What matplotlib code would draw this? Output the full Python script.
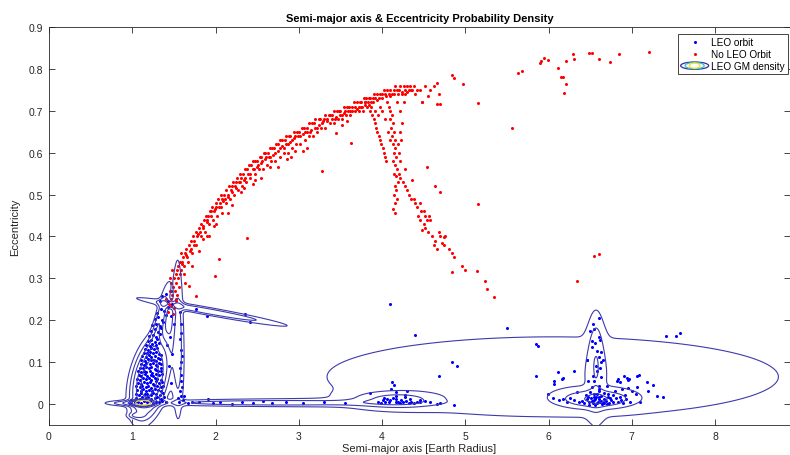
import numpy as np
import matplotlib.pyplot as plt
from matplotlib.lines import Line2D
from matplotlib.patches import Ellipse
from matplotlib.legend_handler import HandlerBase

plt.rcParams['font.family'] = ['Liberation Sans', 'DejaVu Sans']

# ---- non-LEO objects (semi-major axis [Re], eccentricity) ----
red_arc = [
    (1.44, 0.24), (1.45, 0.27), (1.46, 0.25), (1.47, 0.29), (1.48, 0.26), (1.49, 0.28), (1.50, 0.30), (1.50, 0.23),
    (1.51, 0.27), (1.52, 0.31), (1.52, 0.29), (1.53, 0.25), (1.54, 0.32), (1.55, 0.30), (1.55, 0.33), (1.56, 0.28),
    (1.57, 0.34), (1.58, 0.32), (1.58, 0.36), (1.60, 0.34), (1.61, 0.35), (1.62, 0.33), (1.63, 0.36), (1.65, 0.37),
    (1.66, 0.35), (1.68, 0.38), (1.70, 0.37), (1.71, 0.39), (1.73, 0.40), (1.74, 0.38), (1.76, 0.41), (1.78, 0.40),
    (1.80, 0.42), (1.81, 0.41), (1.83, 0.43), (1.85, 0.42), (1.86, 0.44), (1.88, 0.45), (1.90, 0.44), (1.91, 0.45),
    (1.93, 0.46), (1.95, 0.46), (1.96, 0.47), (1.98, 0.46), (2.00, 0.48), (2.01, 0.47), (2.03, 0.49), (2.05, 0.48),
    (2.06, 0.50), (2.08, 0.49), (2.10, 0.50), (2.11, 0.49), (2.13, 0.51), (2.15, 0.50), (2.16, 0.52), (2.18, 0.51),
    (2.20, 0.52), (2.21, 0.53), (2.23, 0.52), (2.25, 0.53), (2.26, 0.54), (2.28, 0.53), (2.30, 0.55), (2.31, 0.54),
    (2.33, 0.55), (2.35, 0.56), (2.36, 0.54), (2.38, 0.56), (2.40, 0.57), (2.41, 0.55), (2.43, 0.57), (2.45, 0.58),
    (2.46, 0.56), (2.48, 0.58), (2.50, 0.58), (2.51, 0.57), (2.53, 0.59), (2.55, 0.59), (2.56, 0.58), (2.58, 0.60),
    (2.60, 0.60), (2.61, 0.59), (2.63, 0.60), (2.65, 0.61), (2.66, 0.59), (2.68, 0.61), (2.70, 0.61), (2.72, 0.60),
    (2.73, 0.62), (2.75, 0.62), (2.77, 0.61), (2.78, 0.63), (2.80, 0.63), (2.82, 0.61), (2.83, 0.63), (2.85, 0.64),
    (2.87, 0.62), (2.88, 0.64), (2.90, 0.64), (2.92, 0.63), (2.94, 0.65), (2.96, 0.64), (2.98, 0.65), (3.00, 0.65),
    (3.02, 0.64), (3.04, 0.66), (3.06, 0.66), (3.08, 0.65), (3.10, 0.66), (3.12, 0.67), (3.14, 0.65), (3.16, 0.67),
    (3.18, 0.67), (3.20, 0.68), (3.22, 0.66), (3.24, 0.68), (3.26, 0.68), (3.28, 0.67), (3.30, 0.68), (3.32, 0.69),
    (3.34, 0.68), (3.36, 0.69), (3.38, 0.69), (3.40, 0.69), (3.42, 0.70), (3.44, 0.68), (3.46, 0.70), (3.48, 0.70),
    (3.50, 0.70), (3.52, 0.69), (3.54, 0.71), (3.56, 0.70), (3.58, 0.71), (3.60, 0.71), (3.62, 0.70), (3.64, 0.71),
    (3.66, 0.72), (3.68, 0.71), (3.70, 0.72), (3.72, 0.71), (3.73, 0.72), (3.75, 0.72), (3.76, 0.71), (3.78, 0.73),
    (3.79, 0.72), (3.80, 0.72), (3.81, 0.73), (3.83, 0.72), (3.84, 0.73), (3.86, 0.73), (3.87, 0.72), (3.89, 0.73),
    (3.90, 0.74), (3.92, 0.73), (3.94, 0.74), (3.96, 0.73), (3.98, 0.74), (4.00, 0.74), (4.02, 0.75), (4.04, 0.74),
    (4.06, 0.75), (4.08, 0.74), (4.10, 0.75), (4.12, 0.74), (4.14, 0.75), (4.16, 0.76), (4.18, 0.75), (4.20, 0.75),
    (4.22, 0.76), (4.24, 0.74), (4.26, 0.76), (4.28, 0.75), (4.30, 0.76), (4.32, 0.75), (4.34, 0.76), (4.36, 0.75),
    (4.38, 0.76), (4.40, 0.74), (4.42, 0.75), (4.45, 0.75), (4.48, 0.72),
    (1.62, 0.31), (1.67, 0.34), (1.72, 0.36), (1.77, 0.38), (1.82, 0.40), (1.87, 0.41), (1.92, 0.43), (1.97, 0.44),
    (2.02, 0.45), (2.07, 0.47), (2.12, 0.48), (2.17, 0.49), (2.22, 0.50), (2.27, 0.51), (2.32, 0.52), (2.37, 0.53),
    (2.42, 0.54), (2.47, 0.55), (2.52, 0.56), (2.57, 0.56), (2.62, 0.57), (2.67, 0.58), (2.72, 0.58), (2.77, 0.59),
    (2.82, 0.60), (2.87, 0.60), (2.92, 0.61), (2.97, 0.62), (3.02, 0.62), (3.07, 0.63), (3.12, 0.64), (3.17, 0.64),
    (3.22, 0.65), (3.27, 0.66), (3.32, 0.66), (3.37, 0.67), (3.42, 0.67), (3.47, 0.68), (3.52, 0.68), (3.57, 0.69),
    (3.62, 0.69), (3.67, 0.70), (3.72, 0.70), (3.77, 0.70), (3.82, 0.71), (3.87, 0.71),
    (1.595, 0.335), (1.645, 0.355), (1.695, 0.365), (1.745, 0.39), (1.795, 0.405), (1.845, 0.425), (1.895, 0.435),
    (1.945, 0.45), (1.995, 0.465), (2.045, 0.47), (2.095, 0.485), (2.145, 0.495), (2.195, 0.505), (2.245, 0.515),
    (2.295, 0.53), (2.345, 0.535), (2.395, 0.55), (2.445, 0.56), (2.495, 0.565), (2.545, 0.575), (2.595, 0.585),
    (2.645, 0.59), (2.695, 0.595), (2.745, 0.605), (2.795, 0.615), (2.845, 0.62), (2.895, 0.625), (2.945, 0.635),
    (2.995, 0.64), (3.045, 0.645), (3.095, 0.65), (3.145, 0.655), (3.195, 0.66), (3.245, 0.665), (3.295, 0.675),
    (3.345, 0.675), (3.395, 0.68), (3.445, 0.685), (3.495, 0.69), (3.545, 0.695), (3.595, 0.70), (3.645, 0.70),
    (3.695, 0.705), (3.745, 0.71), (3.795, 0.715), (3.845, 0.715), (3.895, 0.72), (3.945, 0.725), (3.995, 0.73),
    (4.045, 0.735), (4.095, 0.735), (4.145, 0.74), (4.195, 0.74), (4.245, 0.745), (4.295, 0.745), (4.345, 0.75),
    (2.31, 0.505), (2.34, 0.515), (2.48, 0.535), (2.86, 0.585), (2.91, 0.59), (3.05, 0.605), (3.52, 0.665),
    (3.58, 0.675), (2.65, 0.565), (2.08, 0.455), (1.98, 0.425), (1.85, 0.395),
    (1.43, 0.22), (1.47, 0.235), (1.49, 0.215), (1.52, 0.245), (1.45, 0.30), (1.40, 0.25), (1.54, 0.26),
    (1.57, 0.31), (1.48, 0.32),
]
red_below = [
    (2.38, 0.396), (2.04, 0.346), (1.99, 0.306), (1.68, 0.282), (1.76, 0.258), (3.28, 0.557), (3.63, 0.623),
    (2.96, 0.604), (2.00, 0.43), (2.20, 0.475), (2.55, 0.54), (3.10, 0.61), (1.90, 0.40), (1.63, 0.29),
    (1.72, 0.33), (2.15, 0.455), (2.45, 0.525), (2.75, 0.565), (3.45, 0.648), (1.92, 0.40), (1.80, 0.365),
]
red_branch = [
    (3.86, 0.70), (3.88, 0.69), (3.90, 0.68), (3.91, 0.67), (3.93, 0.66), (3.94, 0.65), (3.96, 0.64), (3.97, 0.63),
    (3.99, 0.62), (4.01, 0.61), (4.02, 0.60), (4.04, 0.59), (4.05, 0.58), (3.92, 0.70), (3.95, 0.69), (3.97, 0.71),
    (4.00, 0.70), (4.03, 0.68), (4.06, 0.72), (4.08, 0.71), (4.10, 0.70), (4.12, 0.69), (4.10, 0.68), (4.13, 0.67),
    (4.11, 0.66), (4.14, 0.65), (4.12, 0.64), (4.15, 0.63), (4.13, 0.62), (4.16, 0.61), (4.14, 0.60), (4.17, 0.59),
    (4.13, 0.58), (4.16, 0.57), (4.18, 0.56), (4.14, 0.55), (4.17, 0.545), (4.19, 0.53), (4.15, 0.52), (4.17, 0.51),
    (4.14, 0.50), (4.18, 0.49), (4.15, 0.48), (4.13, 0.465), (4.15, 0.455), (4.20, 0.60), (4.22, 0.58), (4.19, 0.62),
    (4.21, 0.65), (4.24, 0.67), (4.23, 0.63), (4.20, 0.55), (4.09, 0.63), (4.07, 0.65), (4.18, 0.72), (4.22, 0.70),
    (4.26, 0.72), (4.28, 0.74),
    (4.22, 0.54), (4.25, 0.53), (4.28, 0.52), (4.30, 0.51), (4.32, 0.50), (4.35, 0.49), (4.38, 0.49), (4.40, 0.48),
    (4.42, 0.47), (4.45, 0.48), (4.47, 0.46), (4.50, 0.46), (4.52, 0.45), (4.54, 0.44), (4.56, 0.45), (4.58, 0.44),
    (4.43, 0.45), (4.46, 0.44), (4.50, 0.43), (4.48, 0.415), (4.52, 0.42), (4.55, 0.41), (4.60, 0.40), (4.62, 0.38),
    (4.64, 0.39), (4.66, 0.37), (4.68, 0.41), (4.70, 0.40), (4.72, 0.385), (4.76, 0.40), (4.75, 0.38), (4.80, 0.37),
    (4.84, 0.36), (4.86, 0.35), (4.84, 0.315), (4.96, 0.33), (5.00, 0.32), (5.14, 0.317), (5.24, 0.293),
    (5.26, 0.274), (5.35, 0.255), (4.54, 0.566), (4.64, 0.52), (4.70, 0.507), (4.75, 0.398), (5.15, 0.477),
    (4.36, 0.535), (4.28, 0.56),
]
red_high = [
    (4.48, 0.722), (4.66, 0.766), (4.68, 0.74), (4.66, 0.716), (4.70, 0.716), (4.84, 0.785), (4.86, 0.778),
    (4.97, 0.765), (5.15, 0.718), (5.56, 0.659), (5.68, 0.795), (5.63, 0.79), (5.90, 0.815), (5.91, 0.82),
    (5.95, 0.826), (5.99, 0.821), (6.11, 0.802), (6.15, 0.78), (6.17, 0.78), (6.21, 0.818), (6.19, 0.743),
    (6.21, 0.764), (6.29, 0.835), (6.30, 0.823), (6.49, 0.838), (6.52, 0.837), (6.60, 0.823), (6.74, 0.816),
    (6.85, 0.836), (7.21, 0.841), (6.34, 0.293), (6.54, 0.353), (6.60, 0.358), (4.52, 0.76), (4.55, 0.735),
    (4.58, 0.75), (4.62, 0.76),
]

# ---- LEO objects ----
blue_core = [
    (1.03, 0.004), (1.07, 0.006), (1.10, 0.003), (1.14, 0.008), (1.18, 0.004), (1.21, 0.007), (1.25, 0.003),
    (1.28, 0.006), (1.32, 0.004), (1.36, 0.008), (1.40, 0.005),
    (1.05, 0.015), (1.09, 0.013), (1.12, 0.017), (1.16, 0.014), (1.19, 0.016), (1.23, 0.012), (1.27, 0.015),
    (1.30, 0.017), (1.34, 0.013), (1.38, 0.016),
    (1.04, 0.024), (1.08, 0.022), (1.11, 0.026), (1.15, 0.023), (1.18, 0.025), (1.22, 0.021), (1.25, 0.026),
    (1.29, 0.024), (1.33, 0.022), (1.37, 0.027),
    (1.06, 0.033), (1.10, 0.031), (1.13, 0.035), (1.17, 0.032), (1.20, 0.034), (1.24, 0.030), (1.27, 0.036),
    (1.31, 0.033), (1.35, 0.031),
    (1.05, 0.042), (1.09, 0.040), (1.12, 0.044), (1.16, 0.041), (1.19, 0.043), (1.23, 0.039), (1.26, 0.045),
    (1.30, 0.042), (1.34, 0.040), (1.37, 0.044),
    (1.07, 0.051), (1.11, 0.049), (1.14, 0.053), (1.18, 0.050), (1.21, 0.052), (1.25, 0.048), (1.28, 0.054),
    (1.32, 0.051), (1.36, 0.053),
    (1.06, 0.060), (1.09, 0.058), (1.13, 0.062), (1.16, 0.059), (1.20, 0.061), (1.23, 0.057), (1.27, 0.063),
    (1.30, 0.060), (1.34, 0.058),
    (1.08, 0.069), (1.11, 0.067), (1.15, 0.071), (1.18, 0.068), (1.22, 0.070), (1.25, 0.066), (1.29, 0.072),
    (1.32, 0.069), (1.36, 0.071),
    (1.07, 0.078), (1.10, 0.076), (1.14, 0.080), (1.17, 0.077), (1.21, 0.079), (1.24, 0.075), (1.28, 0.081),
    (1.31, 0.078), (1.35, 0.080),
    (1.09, 0.087), (1.13, 0.085), (1.16, 0.089), (1.20, 0.086), (1.23, 0.088), (1.27, 0.084), (1.30, 0.090),
    (1.34, 0.087),
    (1.10, 0.096), (1.14, 0.094), (1.17, 0.098), (1.21, 0.095), (1.25, 0.097), (1.28, 0.093), (1.32, 0.099),
    (1.35, 0.096),
    (1.11, 0.105), (1.15, 0.103), (1.19, 0.107), (1.22, 0.104), (1.26, 0.106), (1.29, 0.102), (1.33, 0.108),
    (1.12, 0.114), (1.16, 0.112), (1.20, 0.116), (1.23, 0.113), (1.27, 0.115), (1.31, 0.111), (1.34, 0.117),
    (1.14, 0.123), (1.18, 0.121), (1.21, 0.125), (1.25, 0.122), (1.29, 0.124), (1.32, 0.120),
    (1.15, 0.132), (1.19, 0.130), (1.23, 0.134), (1.26, 0.131), (1.30, 0.133),
    (1.17, 0.141), (1.21, 0.139), (1.24, 0.143), (1.28, 0.140), (1.32, 0.145),
    (1.19, 0.150), (1.23, 0.153), (1.27, 0.149), (1.30, 0.155),
    (1.20, 0.162), (1.25, 0.165), (1.29, 0.160), (1.33, 0.168),
    (1.22, 0.175), (1.27, 0.178), (1.31, 0.173), (1.35, 0.181),
    (1.24, 0.188), (1.29, 0.192), (1.33, 0.186), (1.37, 0.196),
    (1.27, 0.203), (1.31, 0.208), (1.36, 0.201), (1.40, 0.212),
    (1.30, 0.218), (1.34, 0.227), (1.38, 0.221), (1.43, 0.232), (1.36, 0.259), (1.43, 0.247), (1.33, 0.245),
    (1.40, 0.262), (1.46, 0.27), (1.48, 0.24),
    (1.57, 0.22), (1.58, 0.19), (1.59, 0.17), (1.57, 0.155), (1.58, 0.13), (1.60, 0.115), (1.58, 0.10),
    (1.57, 0.085), (1.59, 0.07), (1.58, 0.055), (1.60, 0.04), (1.57, 0.03), (1.59, 0.02), (1.61, 0.01),
    (1.56, 0.005), (1.62, 0.02), (1.55, 0.015), (1.45, 0.16), (1.48, 0.12), (1.50, 0.19), (1.44, 0.09),
    (1.42, 0.14), (1.47, 0.21), (1.46, 0.05),
]
blue_flat = [
    (1.67, 0.002), (1.72, 0.006), (1.80, 0.004), (1.91, 0.012), (1.97, 0.003), (2.05, 0.006), (2.20, 0.0),
    (2.32, 0.004), (2.45, 0.002), (2.57, 0.008), (2.68, 0.003), (2.85, 0.005), (3.05, 0.002), (3.30, 0.004),
    (3.55, 0.003), (0.97, 0.002), (0.99, 0.010), (1.76, 0.227), (2.36, 0.215), (2.42, 0.195), (1.90, 0.21),
]
blue_mid = [
    (3.85, 0.026), (3.99, 0.002), (4.01, 0.009), (4.04, 0.005), (4.06, 0.012), (4.08, 0.004), (4.11, 0.036),
    (4.12, 0.052), (4.14, 0.046), (4.17, 0.004), (4.17, 0.012), (4.17, 0.020), (4.17, 0.028), (4.19, 0.006),
    (4.21, 0.003), (4.23, 0.009), (4.25, 0.005), (4.27, 0.017), (4.28, 0.022), (4.30, 0.032), (4.29, 0.007),
    (4.32, 0.003), (4.35, 0.006), (4.38, 0.002), (4.42, 0.004), (4.46, 0.009), (4.52, 0.008), (4.58, 0.004),
    (4.66, 0.0), (4.70, 0.003), (4.87, -0.002), (4.69, 0.067), (4.84, 0.101), (4.90, 0.091), (4.39, 0.165),
    (4.10, 0.24), (3.95, 0.006), (4.02, 0.015), (4.09, 0.010), (4.13, 0.015), (4.34, 0.012), (4.45, 0.004),
    (5.50, 0.181), (5.85, 0.143), (5.87, 0.138), (5.85, 0.067), (7.41, 0.163), (7.53, 0.162), (7.58, 0.17),
]
blue_far = [
    (6.36, 0.004), (6.40, 0.008), (6.43, 0.002), (6.46, 0.012), (6.49, 0.005), (6.51, 0.015), (6.53, 0.003),
    (6.55, 0.009), (6.57, 0.018), (6.58, 0.002), (6.60, 0.011), (6.62, 0.006), (6.63, 0.020), (6.65, 0.003),
    (6.67, 0.013), (6.69, 0.007), (6.71, 0.017), (6.73, 0.002), (6.75, 0.010), (6.78, 0.005), (6.81, 0.014),
    (6.84, 0.004), (6.87, 0.009), (6.90, 0.003), (6.45, 0.022), (6.50, 0.028), (6.55, 0.025), (6.60, 0.031),
    (6.66, 0.026), (6.72, 0.024), (6.78, 0.021), (6.48, -0.002), (6.56, -0.003), (6.64, -0.001), (6.70, 0.0),
    (6.52, 0.008), (6.59, 0.005), (6.61, 0.016), (6.68, 0.010), (6.56, 0.012), (6.54, 0.018), (6.63, 0.008),
    (6.66, 0.002), (6.58, 0.024), (6.47, 0.017), (6.74, 0.015), (6.80, 0.030), (6.86, 0.018), (6.93, 0.012),
    (6.98, 0.005), (6.31, 0.010), (6.26, 0.015), (6.22, 0.006), (6.17, 0.012), (6.12, 0.010), (6.05, 0.014),
    (5.99, 0.024), (6.34, 0.028), (6.92, 0.021), (7.00, 0.032), (7.10, 0.005), (7.06, 0.040), (6.95, 0.038),
    (6.88, 0.035),
    (6.06, 0.048), (6.11, 0.077), (6.16, 0.060), (6.31, 0.079), (6.46, 0.105), (6.82, 0.056), (6.91, 0.068),
    (6.95, 0.058), (6.97, 0.059), (7.06, 0.068), (7.09, 0.070), (7.18, 0.053), (7.26, 0.046), (7.38, 0.017),
    (6.06, 0.056), (6.17, 0.062), (6.86, 0.052), (6.94, 0.063), (6.70, 0.044), (6.83, 0.060), (7.20, 0.030),
    (7.30, 0.020), (7.05, 0.025),
    (6.53, 0.191), (6.55, 0.180), (6.52, 0.151), (6.61, 0.160), (6.62, 0.152), (6.52, 0.135), (6.58, 0.127),
    (6.63, 0.125), (6.60, 0.112), (6.46, 0.106), (6.63, 0.100), (6.65, 0.104), (6.58, 0.080), (6.53, 0.067),
    (6.47, 0.056), (6.63, 0.065), (6.60, 0.044), (6.52, 0.040), (6.57, 0.090), (6.62, 0.085), (6.55, 0.055),
    (6.60, 0.035), (6.56, 0.145), (6.50, 0.175), (6.60, 0.205),
]

# ---- Gaussian mixture fitted to the LEO population ----
gm_mu_a = [6.05, 2.60, 1.00, 1.05, 1.21, 1.13, 1.33, 1.55, 1.90, 4.18, 6.57, 6.57]
gm_mu_e = [0.065, 0.003, 0.002, -0.027, 0.060, 0.003, 0.200, 0.160, 0.222, 0.011, 0.012, 0.105]
gm_sd_a = [2.50, 1.00, 0.17, 0.06, 0.12, 0.06, 0.08, 0.045, 0.55, 0.32, 0.27, 0.065]
gm_sd_e = [0.088, 0.005, 0.004, 0.004, 0.050, 0.0035, 0.060, 0.130, 0.0207, 0.012, 0.0135, 0.080]
gm_rho = [0.0, 0.0, 0.0, 0.0, 0.4, 0.0, 0.85, 0.0, -0.957, 0.0, 0.0, 0.0]
gm_peak = [1.8, 2.5, 3.0, 2.5, 14.0, 100.0, 3.0, 2.5, 3.2, 3.5, 5.0, 2.0]
gm_levels = [1, 2, 3.5, 6, 10, 16, 40]
gm_colors = ['#3d3aae'] * 6 + ['#e2cf22']


def gm_density(a, e):
    z = np.zeros_like(a)
    for ma, me, sa, se, r, p in zip(gm_mu_a, gm_mu_e, gm_sd_a, gm_sd_e, gm_rho, gm_peak):
        za = (a - ma) / sa
        ze = (e - me) / se
        d2 = (za ** 2 - 2 * r * za * ze + ze ** 2) / (1 - r ** 2)
        z += p * np.exp(-0.5 * d2)
    return z


class ContourIcon(HandlerBase):
    def create_artists(self, legend, orig_handle, xdescent, ydescent, width, height, fontsize, trans):
        cx = width / 2 - xdescent
        cy = height / 2 - ydescent
        out = []
        for k, col in zip([1.0, 0.68, 0.38], ['#3e26a8', '#2ec4c8', '#f0e020']):
            out.append(Ellipse((cx, cy), width * k, height * 1.05 * (0.55 + 0.45 * k), fill=False,
                               edgecolor=col, lw=0.9, transform=trans))
        return out


def main():
    fig = plt.figure(figsize=(7.9, 4.56), dpi=100)
    ax = fig.add_axes([49 / 790, 30 / 456, 741 / 790, 398 / 456])

    blue = np.array(blue_core + blue_flat + blue_mid + blue_far)
    red = np.array(red_arc + red_below + red_branch + red_high)
    ax.plot(blue[:, 0], blue[:, 1], 'o', color='#0000ff', ms=2.2, mew=0, zorder=2)
    ax.plot(red[:, 0], red[:, 1], 'o', color='#ff0000', ms=2.2, mew=0, zorder=2)

    ga = np.linspace(0, 8.9, 1800)
    ge = np.linspace(-0.05, 0.45, 800)
    A, E = np.meshgrid(ga, ge)
    ax.contour(A, E, gm_density(A, E), levels=gm_levels, colors=gm_colors, linewidths=0.8, zorder=3)

    ax.set_xlim(0, 8.9)
    ax.set_ylim(-0.05, 0.9)
    ax.set_xticks(range(9))
    ax.set_yticks(np.arange(0, 0.91, 0.1))
    ax.set_yticklabels(['0', '0.1', '0.2', '0.3', '0.4', '0.5', '0.6', '0.7', '0.8', '0.9'])
    ax.tick_params(direction='in', top=True, right=True, length=4, width=0.6, colors='#262626',
                   labelsize=7.5, pad=4)
    for s in ax.spines.values():
        s.set_color('#262626')
        s.set_linewidth(0.6)

    ax.set_title('Semi-major axis & Eccentricity Probability Density', fontsize=8, fontweight='bold', pad=4)
    ax.set_xlabel('Semi-major axis [Earth Radius]', fontsize=8, color='#262626', labelpad=2)
    ax.set_ylabel('Eccentricity', fontsize=8, color='#262626', labelpad=6)

    handles = [
        Line2D([], [], ls='none', marker='o', ms=2.2, mew=0, color='#0000ff'),
        Line2D([], [], ls='none', marker='o', ms=2.2, mew=0, color='#ff0000'),
        object(),
    ]
    leg = ax.legend(handles, ['LEO orbit', 'No LEO Orbit', 'LEO GM density'],
                    handler_map={object: ContourIcon()}, loc='upper right', bbox_to_anchor=(0.997, 0.982),
                    borderaxespad=0, fontsize=7.2, numpoints=1, handlelength=2.8, handletextpad=0.25,
                    labelspacing=0.2, borderpad=0.3, fancybox=False, framealpha=1)
    leg.get_frame().set_edgecolor('#262626')
    leg.get_frame().set_linewidth(0.6)

    fig.savefig('out.png', dpi=100)


if __name__ == '__main__':
    main()
